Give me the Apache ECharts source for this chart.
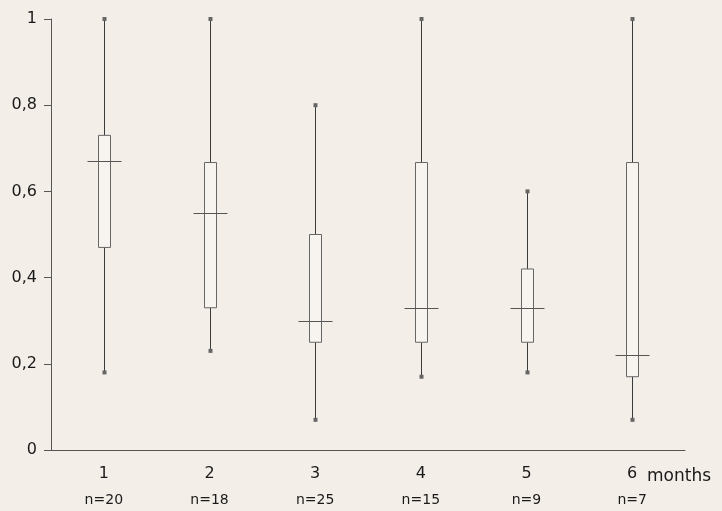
<!DOCTYPE html>
<html><head><meta charset="utf-8">
<script src="https://cdn.jsdelivr.net/npm/echarts@6/dist/echarts.min.js"></script>
<style>html,body{margin:0;padding:0;background:#f4eee9;}#c{width:722px;height:511px;}</style>
</head><body><div id="c"></div>
<script>
var categories = ['1','2','3','4','5','6'];
var counts = ['n=20','n=18','n=25','n=15','n=9','n=7'];
var mins    = [0.18, 0.23, 0.07, 0.17, 0.18, 0.07];
var q1s     = [0.47, 0.33, 0.25, 0.25, 0.25, 0.17];
var medians = [0.67, 0.55, 0.30, 0.33, 0.33, 0.22];
var q3s     = [0.73, 0.667, 0.50, 0.667, 0.42, 0.667];
var maxs    = [1.00, 1.00, 0.80, 1.00, 0.60, 1.00];
var yTicks  = [0, 0.2, 0.4, 0.6, 0.8, 1];

var data = categories.map(function(c, i){ return [i, mins[i], q1s[i], medians[i], q3s[i], maxs[i]]; });
var font = '"DejaVu Sans", sans-serif';
var chart = echarts.init(document.getElementById('c'));
chart.setOption({
  backgroundColor: '#f4eee9',
  animation: false,
  grid: {left: 51, right: 37, top: 19, bottom: 61},
  xAxis: {
    type: 'category', data: categories, boundaryGap: true,
    axisLine: {lineStyle: {color: '#555', width: 1}},
    axisTick: {alignWithLabel: true, length: 6, lineStyle: {color: '#555'}},
    axisLabel: {
      margin: 12, color: '#1a1a1a', fontFamily: font,
      formatter: function(v, i){ return '{a|' + v + '}\n{b|' + counts[i] + '}'; },
      rich: {
        a: {fontSize: 16, fontFamily: font, color: '#1a1a1a', lineHeight: 24},
        b: {fontSize: 14, fontFamily: font, color: '#1a1a1a', lineHeight: 28}
      }
    },
    splitLine: {show: false}
  },
  yAxis: {
    type: 'value', min: 0, max: 1, interval: 0.2,
    axisLine: {show: true, lineStyle: {color: '#555', width: 1}},
    axisTick: {show: true, length: 7, lineStyle: {color: '#555'}},
    axisLabel: {
      margin: 14, color: '#1a1a1a', fontSize: 16, fontFamily: font,
      formatter: function(v){ return String(Math.round(v*10)/10).replace('.', ','); }
    },
    splitLine: {show: false}
  },
  graphic: [{
    type: 'text', left: 647, top: 468,
    style: {text: 'months', font: '17px ' + font, fill: '#1a1a1a'}
  }],
  series: [{
    type: 'custom',
    data: data,
    encode: {x: 0, y: [1,2,3,4,5]},
    renderItem: function(params, api){
      var x = api.value(0);
      var pMin = api.coord([x, api.value(1)]);
      var pQ1 = api.coord([x, api.value(2)]);
      var pMed = api.coord([x, api.value(3)]);
      var pQ3 = api.coord([x, api.value(4)]);
      var pMax = api.coord([x, api.value(5)]);
      var cx = Math.round(pMed[0]) + 0.5;
      var bw = 12, mw = 34;
      var lineStyle = {stroke: '#3a3a3a', lineWidth: 1};
      var boxStyle = {stroke: '#666', lineWidth: 1, fill: '#f7f3ef'};
      return {
        type: 'group',
        children: [
          {type: 'line', shape: {x1: cx, y1: pMax[1], x2: cx, y2: pQ3[1]}, style: lineStyle},
          {type: 'line', shape: {x1: cx, y1: pQ1[1], x2: cx, y2: pMin[1]}, style: lineStyle},
          {type: 'rect', shape: {x: cx - bw/2, y: pQ3[1], width: bw, height: pQ1[1] - pQ3[1]}, style: boxStyle},
          {type: 'line', shape: {x1: cx - mw/2, y1: Math.round(pMed[1]) + 0.5, x2: cx + mw/2, y2: Math.round(pMed[1]) + 0.5}, style: {stroke: '#555', lineWidth: 1}},
          {type: 'rect', shape: {x: cx - 2, y: pMax[1] - 2, width: 4, height: 4}, style: {fill: '#666'}},
          {type: 'rect', shape: {x: cx - 2, y: pMin[1] - 2, width: 4, height: 4}, style: {fill: '#666'}}
        ]
      };
    }
  }]
});
</script>
</body></html>
